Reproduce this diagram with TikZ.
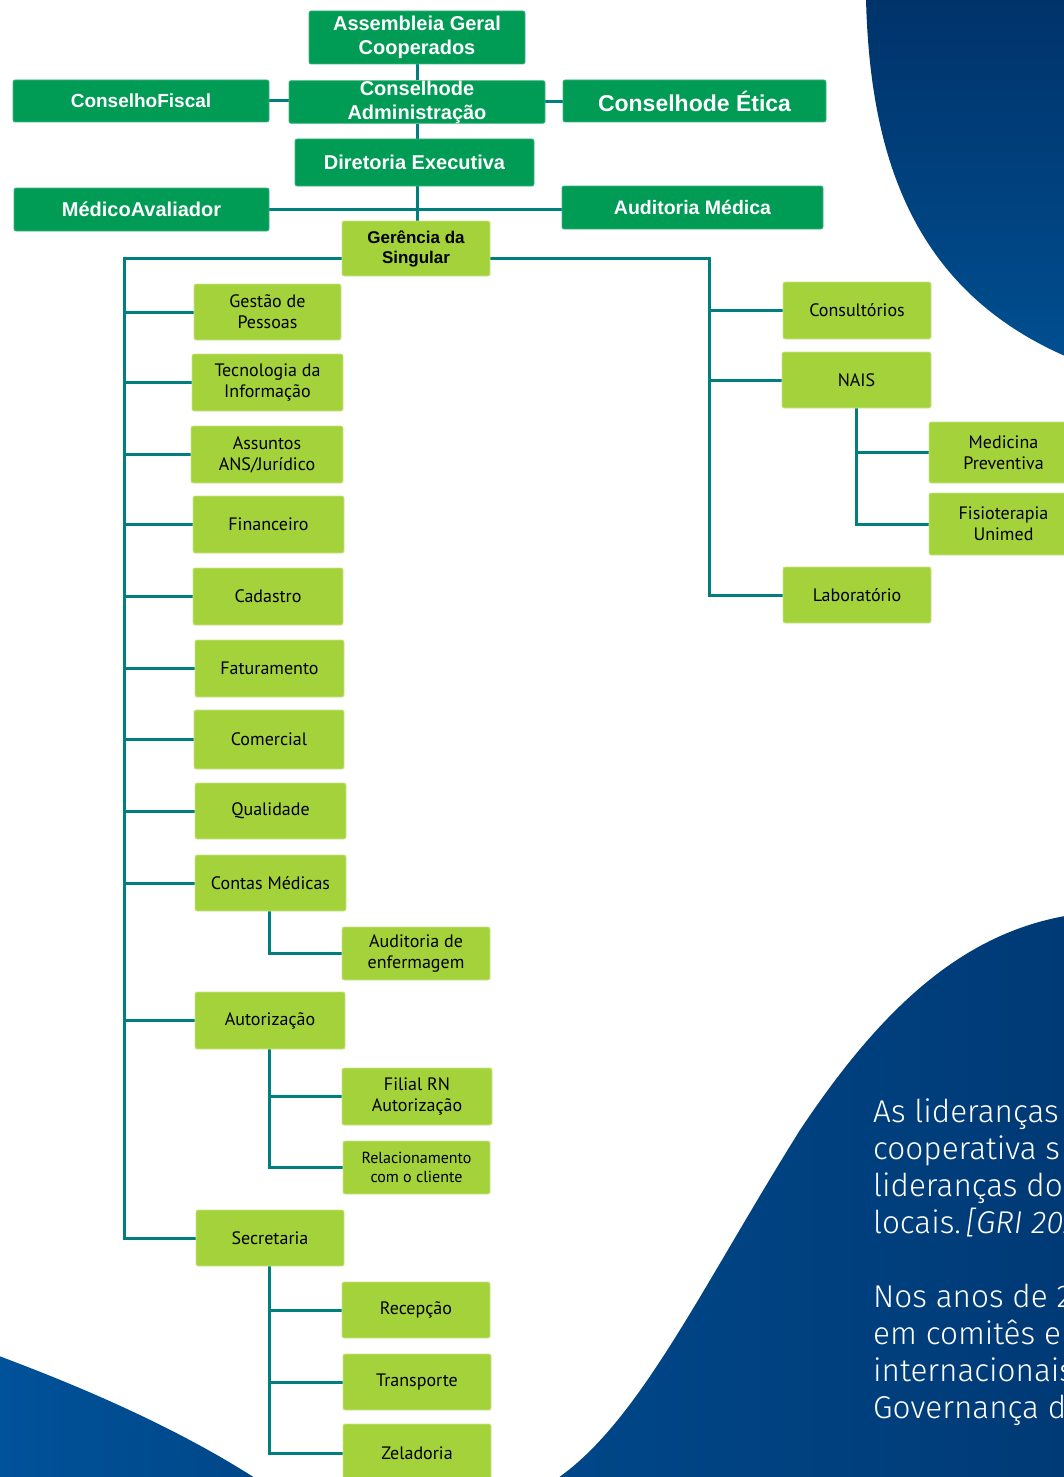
\documentclass[tikz,border=0pt]{standalone}
\usepackage{fontspec}
\usetikzlibrary{backgrounds,calc}
\newfontfamily\arialf{Liberation Sans}
\newfontfamily\ptsf{PT Sans}
\IfFontExistsTF{Fira Sans Light}{\newfontfamily\firaf{Fira Sans Light}}{\newfontfamily\firaf{Fira Sans}}
\definecolor{dkgreen}{HTML}{009B55}
\definecolor{ltgreen}{HTML}{A4D23B}
\definecolor{tealc}{HTML}{007F7E}
\definecolor{blueA}{HTML}{00336A}
\definecolor{blueB}{HTML}{004E90}
\definecolor{blueC}{HTML}{004789}
\definecolor{blueD}{HTML}{003A76}
\definecolor{blueE}{HTML}{00529A}
\begin{document}
\begin{tikzpicture}[x=1pt,y=-1pt,
  dg/.style={rectangle, rounded corners=2pt, fill=dkgreen, draw=dkgreen!75!white, line width=0.8pt,
    text=white, align=center, inner sep=0pt, font=\arialf\bfseries\fontsize{20}{24}\selectfont},
  lg/.style={rectangle, rounded corners=2pt, fill=ltgreen, draw=ltgreen!60!white, line width=0.8pt,
    text=black, align=center, inner sep=0pt, font=\ptsf\fontsize{18}{21}\selectfont},
  conn/.style={draw=tealc, line width=3pt},
  para/.style={anchor=base west, inner sep=0pt, text=white, font=\firaf\fontsize{31.5}{37}\selectfont}]
\useasboundingbox (0,0) rectangle (1064,1477);
\begin{pgfonlayer}{background}
  \shade[top color=blueA, bottom color=blueB] (866,-1) .. controls (870,160) and (915,290) .. (1065,356) -- (1065,-1) -- cycle;
  \shade[left color=blueC, right color=blueD] (1065,916) .. controls (960,935) and (880,1010) .. (800,1130) .. controls (700,1290) and (640,1420) .. (558,1478) -- (1065,1478) -- cycle;
  \shade[left color=blueE, right color=blueC] (-1,1356) .. controls (90,1390) and (180,1430) .. (255,1478) -- (-1,1478) -- cycle;
\end{pgfonlayer}

% top (dark green)
\node[dg, minimum width=216pt, minimum height=53pt] (ag) at (417,37.5) {Assembleia Geral\\Cooperados};
\node[dg, minimum width=256pt, minimum height=42pt, font=\arialf\bfseries\fontsize{19}{23}\selectfont] (cf) at (141,101) {ConselhoFiscal};
\node[dg, minimum width=256pt, minimum height=42pt] (ca) at (417,102) {Conselhode\\Administração};
\node[dg, minimum width=263pt, minimum height=42pt, font=\arialf\bfseries\fontsize{23}{27}\selectfont] (ce) at (694.5,101) {Conselhode Ética};
\node[dg, minimum width=239pt, minimum height=47pt] (de) at (414.5,162.5) {Diretoria Executiva};
\node[dg, minimum width=255pt, minimum height=43pt] (ma) at (141.5,209.5) {MédicoAvaliador};
\node[dg, minimum width=261pt, minimum height=43pt, font=\arialf\bfseries\fontsize{19.5}{23}\selectfont] (am) at (692.5,207.5) {Auditoria Médica};
\node[lg, minimum width=148pt, minimum height=55pt, font=\arialf\bfseries\fontsize{17}{20}\selectfont] (gs) at (416,248.5) {Gerência da\\Singular};

% left column
\node[lg, minimum width=147pt, minimum height=56pt] (gp) at (267.5,312) {Gestão de\\Pessoas};
\node[lg, minimum width=151pt, minimum height=57pt] (ti) at (267.5,382.5) {Tecnologia da\\Informação};
\node[lg, minimum width=152pt, minimum height=57pt] (aj) at (267,454.5) {Assuntos\\ANS/Jurídico};
\node[lg, minimum width=151pt, minimum height=57pt] (fi) at (268.5,524.5) {Financeiro};
\node[lg, minimum width=150pt, minimum height=57pt] (cd) at (268,596.5) {Cadastro};
\node[lg, minimum width=149pt, minimum height=57pt] (fa) at (269.5,668.5) {Faturamento};
\node[lg, minimum width=150pt, minimum height=59pt] (co) at (269,739.5) {Comercial};
\node[lg, minimum width=151pt, minimum height=56pt] (qu) at (270.5,811) {Qualidade};
\node[lg, minimum width=151pt, minimum height=56pt] (cm) at (270.5,883) {Contas Médicas};
\node[lg, minimum width=148pt, minimum height=53pt] (ae) at (416,953.5) {Auditoria de\\enfermagem};
\node[lg, minimum width=150pt, minimum height=57pt] (au) at (270,1020.5) {Autorização};
\node[lg, minimum width=150pt, minimum height=57pt] (fr) at (417,1096.5) {Filial RN\\Autorização};
\node[lg, minimum width=147pt, minimum height=53pt, font=\ptsf\fontsize{16}{19}\selectfont] (rc) at (416.5,1167.5) {Relacionamento\\com o cliente};
\node[lg, minimum width=148pt, minimum height=56pt] (se) at (270,1238) {Secretaria};
\node[lg, minimum width=148pt, minimum height=56pt] (re) at (416,1310) {Recepção};
\node[lg, minimum width=148pt, minimum height=56pt] (tr) at (417,1382) {Transporte};
\node[lg, minimum width=148pt, minimum height=58pt] (ze) at (417,1453) {Zeladoria};

% right column
\node[lg, minimum width=148pt, minimum height=57pt] (cs) at (857,310.5) {Consultórios};
\node[lg, minimum width=149pt, minimum height=56pt] (na) at (856.5,380) {NAIS};
\node[lg, minimum width=149pt, minimum height=61pt] (mp) at (1003.5,452.5) {Medicina\\Preventiva};
\node[lg, minimum width=149pt, minimum height=62pt] (ft) at (1003.5,524) {Fisioterapia\\Unimed};
\node[lg, minimum width=148pt, minimum height=56pt] (lb) at (857,595) {Laboratório};

% spines
\coordinate (ls) at (124,0);
\coordinate (rs) at (709,0);
\coordinate (gl) at ($(gs.west)+(0,9.5)$);
\coordinate (gr) at ($(gs.east)+(0,9.5)$);

\begin{pgfonlayer}{background}
  \draw[conn] (ag.south) -- (ag.south |- ca.north);
  \draw[conn] (cf.east) -- (cf.east -| ca.west);
  \draw[conn] (ca.east) -- (ca.east -| ce.west);
  \draw[conn] (ca.south) -- (ca.south |- gs.north);
  \draw[conn] (ma.east) -- (ma.east -| am.west);
  \draw[conn, line join=miter] (gl) -| (ls |- se.west) -- (se.west);
  \foreach \n in {gp,ti,aj,fi,cd,fa,co,qu,cm,au}
    \draw[conn] (ls |- \n.west) -- (\n.west);
  \draw[conn, line join=miter] (gr) -| (rs |- lb.west) -- (lb.west);
  \draw[conn] (rs |- cs.west) -- (cs.west);
  \draw[conn] (rs |- na.west) -- (na.west);
  \draw[conn, line join=miter] (na.south) |- (ft.west);
  \draw[conn] (na.south |- mp.west) -- (mp.west);
  \draw[conn, line join=miter] ([xshift=-1.5pt]cm.south) |- (ae.west);
  \draw[conn, line join=miter] ([xshift=-1pt]au.south) |- (rc.west);
  \draw[conn] ([xshift=-1pt]au.south |- fr.west) -- (fr.west);
  \draw[conn] ([xshift=-1pt]se.south) -- ([xshift=-1pt]se.south |- ze.west) -- (ze.west);
  \draw[conn] ([xshift=-1pt]se.south |- re.west) -- (re.west);
  \draw[conn] ([xshift=-1pt]se.south |- tr.west) -- (tr.west);
\end{pgfonlayer}

% paragraph text (cut by the page edge, as in the reference)
\node[para] (p1) at (873,1122) {As lideranças};
\node[para] (p2) at (873,1159) {cooperativa s};
\node[para] (p3) at (873,1196) {lideranças do};
\node[para] (p4) at (873,1233) {locais.\,\textit{[GRI 202}};
\node[para] (p5) at (873,1307) {Nos anos de 2};
\node[para] (p6) at (873,1344) {em comitês e};
\node[para] (p7) at (873,1381) {internacionais};
\node[para] (p8) at (873,1418) {Governança d};
\end{tikzpicture}
\end{document}
